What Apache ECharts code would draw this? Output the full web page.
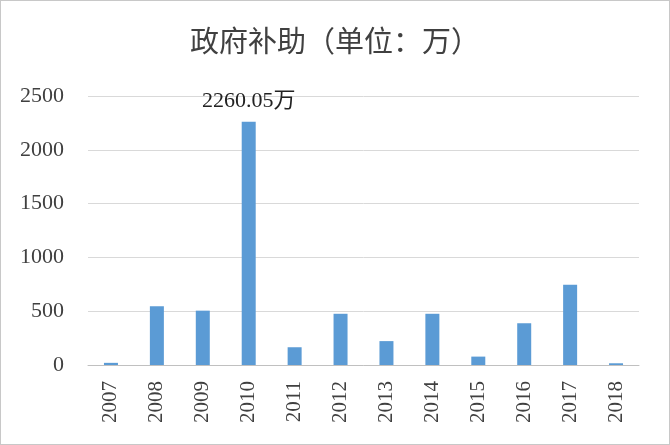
<!DOCTYPE html>
<html>
<head>
<meta charset="utf-8">
<script src="https://cdn.jsdelivr.net/npm/echarts@6/dist/echarts.min.js"></script>
<style>
	html, body { margin: 0; padding: 0; background: #fff; }
	#chart { width: 670px; height: 445px; box-sizing: border-box; border: 1px solid #c8c8c8; }
</style>
</head>
<body>
<div id="chart"></div>
<script>
	// government subsidy by year, unit: 万
	var years = ['2007', '2008', '2009', '2010', '2011', '2012', '2013', '2014', '2015', '2016', '2017', '2018'];
	var subsidy = [20, 546, 505, 2260.05, 165, 476, 222, 476, 78, 388, 745, 16];
	var yTicks = [0, 500, 1000, 1500, 2000, 2500];

	var serif = '"Liberation Serif", "Times New Roman", "Noto Sans CJK SC", serif';

	var myChart = echarts.init(document.getElementById('chart'));
	var option = {
		animation: false,
		title: {
			text: '政府补助（单位：万）',
			left: 'center',
			top: 24,
			textStyle: {
				fontFamily: serif,
				fontSize: 29,
				fontWeight: 'normal',
				color: '#404040'
			}
		},
		grid: {
			left: 87,
			right: 30,
			top: 95,
			bottom: 79
		},
		xAxis: {
			type: 'category',
			data: years,
			axisLine: { lineStyle: { color: '#c0c0c0', width: 1 } },
			axisTick: { show: false },
			axisLabel: {
				rotate: 90,
				margin: 16,
				fontFamily: serif,
				fontSize: 21,
				color: '#404040'
			}
		},
		yAxis: {
			type: 'value',
			min: yTicks[0],
			max: yTicks[yTicks.length - 1],
			interval: 500,
			axisLine: { show: false },
			axisTick: { show: false },
			splitLine: { lineStyle: { color: '#d9d9d9', width: 1 } },
			axisLabel: {
				margin: 24,
				fontFamily: serif,
				fontSize: 22,
				color: '#404040',
				formatter: function (v) { return String(v); }
			}
		},
		series: [{
			type: 'bar',
			barWidth: 14,
			itemStyle: { color: '#5b9bd5' },
			label: {
				show: true,
				position: 'top',
				distance: 10,
				fontFamily: serif,
				fontSize: 22,
				color: '#222',
				formatter: function (p) {
					return p.dataIndex === 3 ? p.value + '万' : '';
				}
			},
			data: subsidy
		}]
	};
	myChart.setOption(option);
</script>
</body>
</html>
